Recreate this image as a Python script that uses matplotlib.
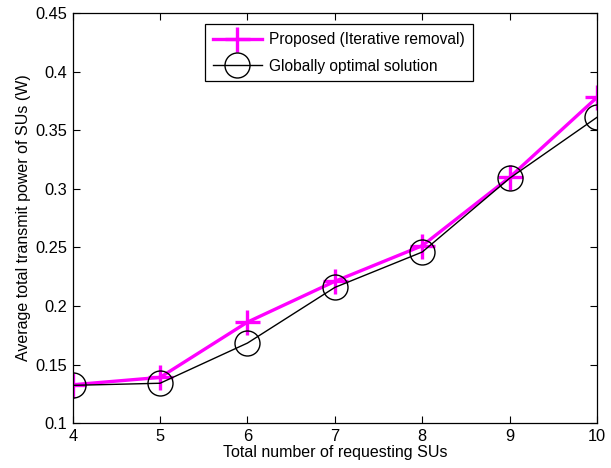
import matplotlib
matplotlib.use("Agg")
import matplotlib.pyplot as plt

plt.rcParams['font.family'] = ['Liberation Sans', 'DejaVu Sans']

num_sus = [4, 5, 6, 7, 8, 9, 10]
proposed = [0.1327, 0.139, 0.1862, 0.221, 0.2514, 0.3097, 0.378]
optimal = [0.1322, 0.134, 0.1683, 0.2158, 0.246, 0.309, 0.361]
xticks = [4, 5, 6, 7, 8, 9, 10]
yticks = [0.1, 0.15, 0.2, 0.25, 0.3, 0.35, 0.4, 0.45]
ytick_labels = ['0.1', '0.15', '0.2', '0.25', '0.3', '0.35', '0.4', '0.45']

fig = plt.figure(figsize=(6.11, 4.68), dpi=100)
ax = fig.add_axes([0.119, 0.096, 0.858, 0.876])

ax.plot(num_sus, proposed, color='#ff00ff', linewidth=2.4, marker='+',
        markersize=18, markeredgewidth=2.4, label='Proposed (Iterative removal)')
ax.plot(num_sus, optimal, color='black', linewidth=1.0, marker='o',
        markersize=18, markerfacecolor='none', markeredgewidth=1.0,
        label='Globally optimal solution')

ax.set_xlim(4, 10)
ax.set_ylim(0.1, 0.45)
ax.set_xticks(xticks)
ax.set_yticks(yticks)
ax.set_yticklabels(ytick_labels)
ax.tick_params(direction='in', top=True, right=True, labelsize=11.8, length=5, width=0.8, pad=4)
for s in ax.spines.values():
    s.set_linewidth(0.9)

ax.set_xlabel('Total number of requesting SUs', fontsize=11.5, labelpad=1)
ax.set_ylabel('Average total transmit power of SUs (W)', fontsize=11.5, labelpad=3)

leg = ax.legend(loc='upper left', bbox_to_anchor=(0.252, 0.973), fontsize=11.2,
                frameon=True, fancybox=False, edgecolor='black', framealpha=1,
                handlelength=3.2, borderpad=0.5, labelspacing=0.75,
                handletextpad=0.45, borderaxespad=0)
leg.get_frame().set_linewidth(0.9)

fig.savefig('out.png', dpi=100)
